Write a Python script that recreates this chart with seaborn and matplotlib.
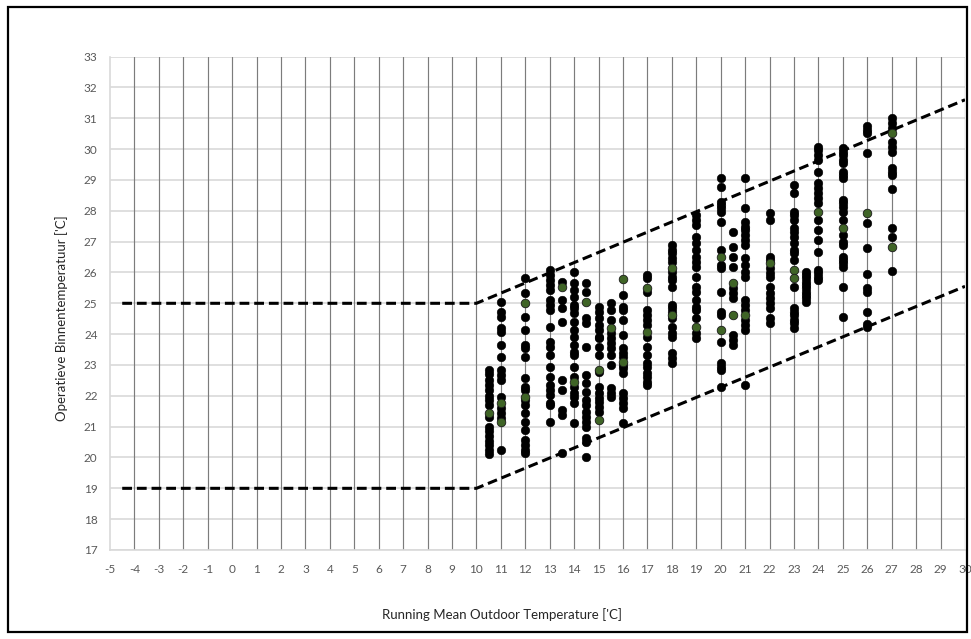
import numpy as np
import pandas as pd
import matplotlib
matplotlib.use("Agg")
import matplotlib.pyplot as plt
import seaborn as sns
from matplotlib.patches import Rectangle

# ---------------- data ----------------
col_positions = [10.5, 11, 12, 13, 13.5, 14, 14.5, 15, 15.5, 16, 17, 18, 19,
                 20, 20.5, 21, 22, 23, 23.5, 24, 25, 26, 27]

c10_5 = [22.85, 22.7, 22.5, 22.35, 22.2, 22.0, 21.85, 21.7, 21.3, 21.0, 20.85, 20.7, 20.55, 20.4, 20.25, 20.1]
c11 = [25.05, 24.73, 24.57, 24.19, 24.08, 23.65, 23.27, 22.84, 22.67, 22.51, 21.97, 21.6, 21.43, 21.27, 20.24]
c12 = [25.81, 25.32, 24.57, 24.13, 23.65, 23.54, 23.27, 22.57, 22.3, 22.19, 21.86, 21.7, 21.43, 21.16, 20.89, 20.57, 20.4, 20.24, 20.13]
c13 = [26.08, 25.92, 25.76, 25.59, 25.43, 25.11, 24.95, 24.78, 24.24, 23.75, 23.59, 23.32, 22.94, 22.62, 22.35, 22.19, 22.03, 21.76, 21.7, 21.16]
c13_5 = [25.7, 25.11, 24.84, 24.4, 22.51, 22.19, 21.54, 21.38, 20.13]
c14 = [26.03, 25.65, 25.43, 25.22, 24.95, 24.84, 24.68, 24.4, 24.13, 23.92, 23.65, 23.43, 23.32, 22.94, 22.62, 22.3, 22.08, 21.97, 21.76, 21.11]
c14_5 = [25.65, 25.38, 24.51, 24.35, 23.59, 22.67, 22.4, 22.13, 21.86, 21.7, 21.48, 21.32, 21.16, 21.0, 20.62, 20.51, 20.02]
c15 = [24.89, 24.73, 24.51, 24.3, 24.13, 23.92, 23.86, 23.59, 23.32, 22.78, 22.3, 22.08, 21.92, 21.81, 21.65, 21.48]
c15_5 = [25.0, 24.78, 24.46, 24.03, 23.86, 23.7, 23.54, 23.32, 23.0, 22.24, 22.08, 21.97]
c16 = [25.27, 24.89, 24.78, 24.46, 23.97, 23.54, 23.38, 23.27, 23.0, 22.89, 22.73, 22.08, 21.92, 21.76, 21.6, 21.11]
c17 = [25.92, 25.81, 25.38, 24.78, 24.62, 24.46, 24.3, 23.92, 23.59, 23.32, 23.05, 22.95, 22.73, 22.62, 22.46, 22.35]
c18 = [26.89, 26.73, 26.62, 26.46, 26.35, 26.03, 25.86, 25.76, 25.54, 24.95, 24.84, 24.73, 24.51, 24.24, 24.03, 23.92, 23.38, 23.22, 23.05]
c19 = [27.86, 27.7, 27.54, 27.16, 26.95, 26.73, 26.51, 26.35, 26.19, 25.86, 25.54, 25.38, 25.11, 24.89, 24.78, 24.51, 24.03, 23.86]
c20 = [29.05, 28.78, 28.3, 28.19, 28.08, 27.97, 27.65, 26.73, 26.24, 26.14, 25.38, 24.73, 24.62, 23.75, 23.05, 22.94, 22.84, 22.3]
c20_5 = [27.32, 26.84, 26.51, 26.19, 25.49, 25.32, 25.16, 23.97, 23.81, 23.65]
c21 = [29.05, 28.08, 27.65, 27.48, 27.38, 27.22, 27.05, 26.89, 26.46, 26.24, 26.03, 25.86, 25.11, 24.95, 24.78, 24.46, 24.3, 24.13, 22.35]
c22 = [27.92, 27.7, 26.51, 26.4, 26.14, 25.97, 25.86, 25.54, 25.32, 25.16, 25.0, 24.84, 24.51, 24.37]
c23 = [28.84, 28.57, 27.97, 27.86, 27.7, 27.43, 27.32, 27.16, 26.95, 26.73, 26.62, 26.4, 25.54, 24.84, 24.73, 24.62, 24.46, 24.35, 24.19]
c23_5 = [26.03, 25.92, 25.81, 25.7, 25.59, 25.49, 25.38, 25.27, 25.16, 25.05]
c24 = [30.08, 29.97, 29.81, 29.65, 29.27, 28.89, 28.73, 28.57, 28.41, 28.24, 27.7, 27.38, 27.05, 26.67, 26.08, 25.97, 25.86, 25.76]
c25 = [30.03, 29.92, 29.81, 29.65, 29.54, 29.27, 29.16, 29.05, 28.35, 28.24, 28.13, 27.97, 27.7, 27.22, 27.0, 26.89, 26.51, 26.4, 26.3, 26.19, 25.54, 24.55]
c26 = [30.75, 30.62, 30.51, 29.88, 27.61, 26.8, 25.95, 25.49, 25.38, 24.73, 24.33, 24.22]
c27 = [31.0, 30.84, 30.68, 30.24, 30.08, 29.92, 29.38, 29.27, 29.16, 28.7, 27.43, 27.16, 26.06]

# second (dark green) series
green_x = [10.5, 11, 11, 12, 12, 13.5, 14, 14.5, 15, 15, 15.5, 16, 16, 17, 17, 18, 18, 19,
           20, 20, 20.5, 20.5, 21, 22, 23, 23, 24, 25, 26, 27, 27]
green_y = [21.45, 21.76, 21.16, 25.0, 21.97, 25.54, 22.46, 25.05, 22.84, 21.21, 24.19, 25.79, 23.11,
           25.49, 24.08, 26.14, 24.62, 24.24, 26.51, 24.13, 25.65, 24.62, 24.62, 26.3, 26.08, 25.81,
           27.97, 27.43, 27.92, 30.51, 26.84]

# comfort limits (dashed lines)
upper_x = [-4.5, 10, 30]
upper_y = [25, 25, 31.6]
lower_x = [-4.5, 10, 30]
lower_y = [19, 19, 25.55]

x_ticks = list(range(-5, 31))
y_ticks = list(range(17, 34))

# ---------------- build tables ----------------
columns = [c10_5, c11, c12, c13, c13_5, c14, c14_5, c15, c15_5, c16, c17, c18, c19,
           c20, c20_5, c21, c22, c23, c23_5, c24, c25, c26, c27]
rows = []
for xpos, ys in zip(col_positions, columns):
    for y in ys:
        rows.append((xpos, y))
black_df = pd.DataFrame(rows, columns=["x", "y"])
green_df = pd.DataFrame({"x": green_x, "y": green_y})
upper_df = pd.DataFrame({"x": upper_x, "y": upper_y})
lower_df = pd.DataFrame({"x": lower_x, "y": lower_y})

# ---------------- plot ----------------
sns.set_theme(style="white")
plt.rcParams["font.family"] = ["Lato", "DejaVu Sans"]

W, H = 971, 639
fig = plt.figure(figsize=(W / 100, H / 100), dpi=100)
ax = fig.add_axes([110 / W, 1 - 550 / H, (965 - 110) / W, (550 - 56.6) / H])

ax.set_xlim(-5, 30)
ax.set_ylim(17, 33)
ax.set_xticks(x_ticks)
ax.set_yticks(y_ticks)
ax.set_xticklabels([str(t) for t in x_ticks])
ax.set_yticklabels([str(t) for t in y_ticks])

# grid: light horizontal, darker vertical
for yv in y_ticks:
    ax.axhline(yv, color="#d9d9d9", lw=1.2, zorder=0)
for xv in x_ticks[1:]:
    ax.axvline(xv, color="#7c7c7c", lw=0.85, zorder=0)

for side in ["top", "right"]:
    ax.spines[side].set_visible(False)
for side in ["left", "bottom"]:
    ax.spines[side].set_color("#d9d9d9")
    ax.spines[side].set_linewidth(1.2)

ax.tick_params(axis="both", length=0, labelsize=8.5, colors="#595959")
ax.tick_params(axis="x", pad=10)
ax.tick_params(axis="y", pad=9)

sns.lineplot(data=upper_df, x="x", y="y", ax=ax, color="black", lw=2.2,
             linestyle=(0, (3.2, 1.6)), estimator=None, sort=False, zorder=3)
sns.lineplot(data=lower_df, x="x", y="y", ax=ax, color="black", lw=2.2,
             linestyle=(0, (3.2, 1.6)), estimator=None, sort=False, zorder=3)

sns.scatterplot(data=black_df, x="x", y="y", ax=ax, color="black", s=38,
                edgecolor="black", linewidth=0.4, zorder=4)
sns.scatterplot(data=green_df, x="x", y="y", ax=ax, color="#3f6426", s=38,
                edgecolor="#1a1a1a", linewidth=0.6, zorder=5)

ax.set_xlabel("")
ax.set_ylabel("")

fig.text(502 / W, 1 - 615 / H, "Running Mean Outdoor Temperature ['C]",
         ha="center", va="center", fontsize=9.5, color="#262626")
fig.text(62 / W, 1 - 318 / H, "Operatieve Binnentemperatuur ['C]",
         ha="center", va="center", rotation=90, fontsize=9.5, color="#262626")

# outer frame
fig.patches.append(Rectangle((8 / W, 7 / H), (967 - 8) / W, (632 - 7) / H,
                             transform=fig.transFigure, fill=False,
                             edgecolor="black", lw=1.6))

fig.savefig("out.png", dpi=100, facecolor="white")
